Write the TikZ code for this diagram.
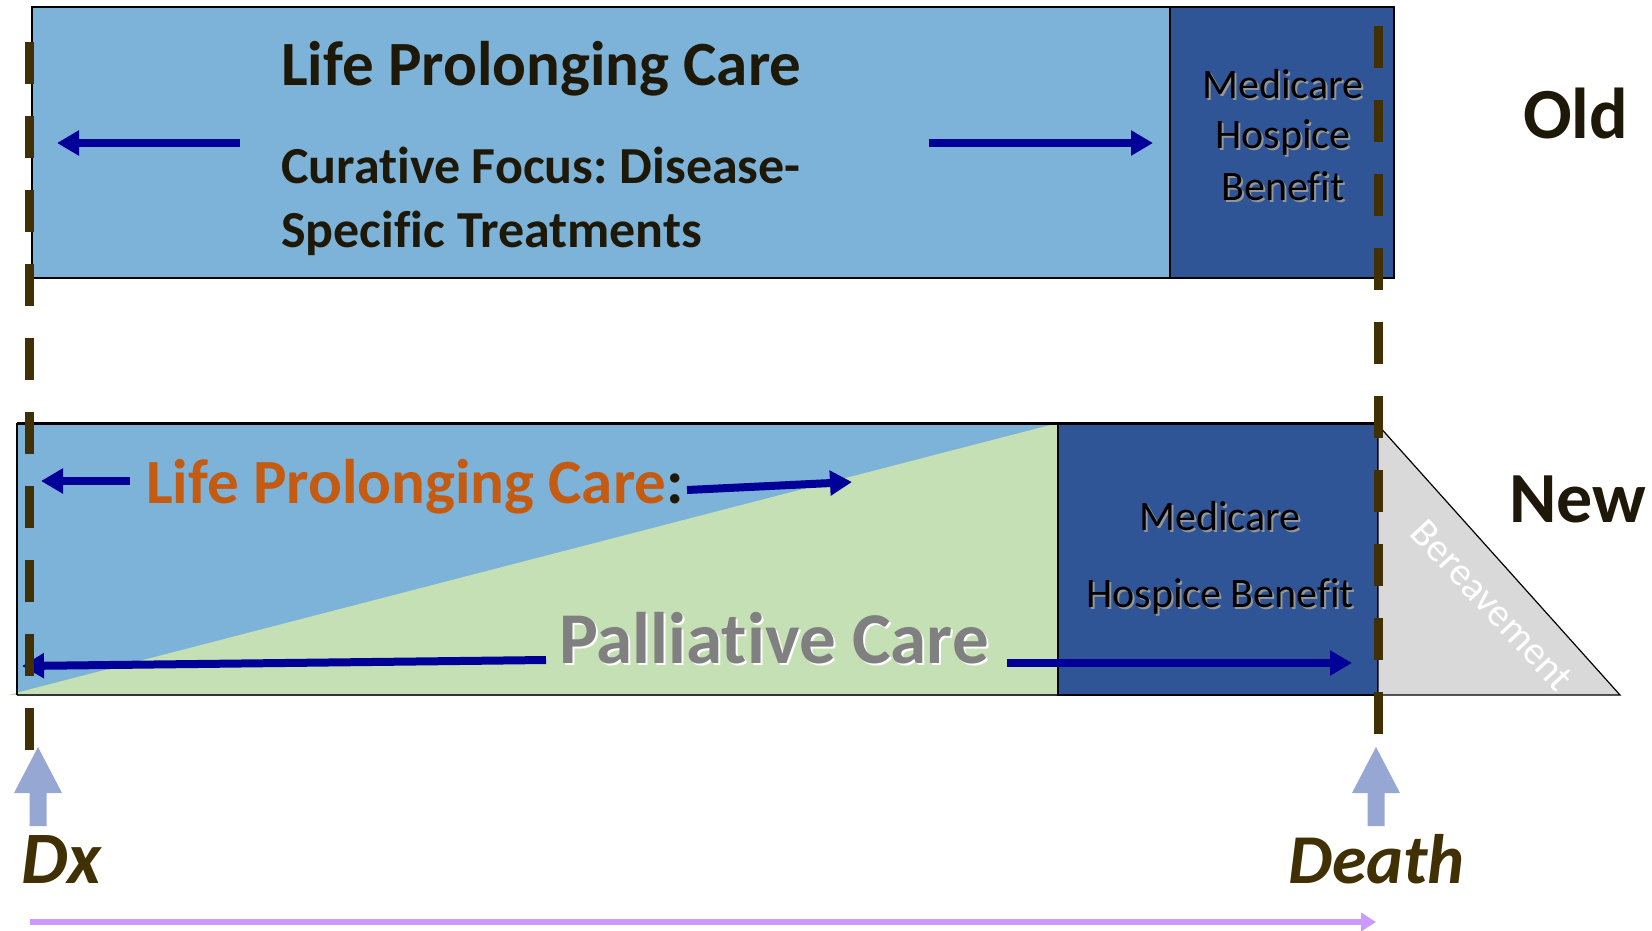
\documentclass[tikz,border=0pt]{standalone}
\usepackage{fontspec}
\setmainfont{Carlito}[Ligatures=NoCommon]
\usetikzlibrary{arrows.meta}
\frenchspacing
\definecolor{lightblue}{RGB}{125,179,216}
\definecolor{darkblue}{RGB}{47,85,151}
\definecolor{palegreen}{RGB}{197,224,180}
\definecolor{bergray}{RGB}{217,217,217}
\definecolor{arrowblue}{RGB}{0,0,153}
\definecolor{inkbrown}{RGB}{64,48,4}
\definecolor{inkdark}{RGB}{30,24,8}
\definecolor{careorange}{RGB}{197,90,17}
\definecolor{palgray}{RGB}{128,128,128}
\definecolor{upblue}{RGB}{151,167,212}
\definecolor{lavender}{RGB}{204,153,255}
\definecolor{softshadow}{RGB}{150,150,150}
% text with a small drop shadow set behind it
\newcommand\dropshadow[2]{\rlap{\hspace{2pt}\raisebox{-2pt}{\textcolor{#1}{#2}}}#2}
\begin{document}
\begin{tikzpicture}[x=1pt,y=-1pt,
  flowarrow/.style={arrowblue, line width=8pt, -{Triangle[length=22pt,width=24pt]}},
  timeline/.style={inkbrown, line width=9pt, dash pattern=on 42pt off 32pt},
  bigbold/.style={font=\fontsize{63}{76}\selectfont\bfseries, inner sep=0pt},
  subbold/.style={font=\fontsize{52}{64}\selectfont\bfseries, inner sep=0pt, anchor=base west, text=inkdark},
  hospice/.style={font=\fontsize{42}{50}\selectfont, inner sep=0pt, anchor=base},
  label/.style={font=\fontsize{72}{86}\selectfont\bfseries, inner sep=0pt, anchor=base west, text=inkdark},
  event/.style={font=\fontsize{74}{90}\selectfont\bfseries\itshape, inner sep=0pt, anchor=base west, text=inkbrown},
  uparrow/.style={fill=upblue}
]
\useasboundingbox (0,0) rectangle (1652,930);

% ---------- old model ----------
\fill[lightblue] (32,7) rectangle (1170,278);
\fill[darkblue] (1170,7) rectangle (1394,278);
\draw[line width=2pt] (32,7) rectangle (1394,278);
\draw[line width=1.2pt] (1170,7) -- (1170,278);

\node[bigbold, anchor=base west, text=inkdark] (oldlpc) at (281,85) {Life Prolonging Care};
\node[subbold] (cur1) at (281,183) {Curative Focus: Disease-};
\node[subbold] (cur2) at (281,247) {Specific Treatments};

\foreach \t/\y [count=\i] in {Medicare/98, Hospice/148, Benefit/200}{
  \node[hospice] (oldhb\i) at (1283,\y) {\dropshadow{softshadow}{\t}};
}

\coordinate (oldLtail) at (240,143);
\coordinate (oldLtip) at (57,143);
\coordinate (oldRtail) at (929,143);
\coordinate (oldRtip) at (1153,143);
\draw[flowarrow] (oldLtail) -- (oldLtip);
\draw[flowarrow] (oldRtail) -- (oldRtip);

\node[label] (old) at (1523,138) {Old};

% ---------- new model ----------
\fill[lightblue] (17,423) rectangle (1058,695);
\fill[palegreen] (8,695) -- (1058,423) -- (1058,695) -- cycle;
\fill[darkblue] (1058,423) rectangle (1378,695);
\draw[line width=1.2pt, black!80] (17,695) -- (1378,695);
\draw[line width=1.2pt] (17,695) -- (17,423);
\draw[line width=3pt] (17,423) -- (1378,423);
\draw[line width=1.2pt] (1058,423) rectangle (1378,695);

% bereavement wedge
\filldraw[fill=bergray, draw=black, line width=1.2pt] (1378,425) -- (1620,695) -- (1378,695) -- cycle;
\node[font=\fontsize{40}{48}\selectfont, text=white, rotate=-47, inner sep=0pt] (bereave) at (1492,605) {Bereavement};

\node[bigbold, anchor=base west] (newlpc) at (146,503) {\textcolor{careorange}{Life Prolonging Care}\textcolor{inkdark}{:}};

\node[font=\fontsize{73}{86}\selectfont\bfseries, inner sep=0pt, anchor=base west, text=palgray] (palliative) at (559,663) {\dropshadow{white}{Palliative Care}};

\node[hospice] (newhb1) at (1220,530) {\dropshadow{softshadow}{Medicare}};
\node[hospice] (newhb2) at (1220,607) {\dropshadow{softshadow}{Hospice Benefit}};

\coordinate (lpcLtail) at (130,481);
\coordinate (lpcLtip) at (41,481);
\coordinate (lpcRtail) at (687,490);
\coordinate (lpcRtip) at (852,482);
\draw[flowarrow] (lpcLtail) -- (lpcLtip);
\draw[flowarrow] (lpcRtail) -- (lpcRtip);

\coordinate (palLtail) at (546,660);
\coordinate (palLtip) at (22,666);
\coordinate (palRtail) at (1007,663);
\coordinate (palRtip) at (1352,663);
\draw[flowarrow] (palLtail) -- (palLtip);
\draw[flowarrow] (palRtail) -- (palRtip);

\node[label] (new) at (1509,522) {New};

% ---------- time markers ----------
\coordinate (dxtop) at (29,42);
\coordinate (dxbot) at (29,750);
\coordinate (deathtop) at (1378,26);
\coordinate (deathbot) at (1378,734);
\draw[timeline] (dxtop) -- (dxbot);
\draw[timeline] (deathtop) -- (deathbot);

\fill[uparrow] (38,747) -- (62,793) -- (46.5,793) -- (46.5,826) -- (29.5,826) -- (29.5,793) -- (14,793) -- cycle;
\fill[uparrow] (1376,747) -- (1400,793) -- (1384.5,793) -- (1384.5,826) -- (1367.5,826) -- (1367.5,793) -- (1352,793) -- cycle;

\node[event] (dx) at (21,883) {Dx};
\node[event, font=\fontsize{70}{90}\selectfont\bfseries\itshape] (death) at (1288,883) {Death};

\coordinate (spanstart) at (30,922);
\coordinate (spanend) at (1376,922);
\draw[lavender, line width=6pt, -{Triangle[length=15pt,width=18pt]}] (spanstart) -- (spanend);
\end{tikzpicture}
\end{document}
